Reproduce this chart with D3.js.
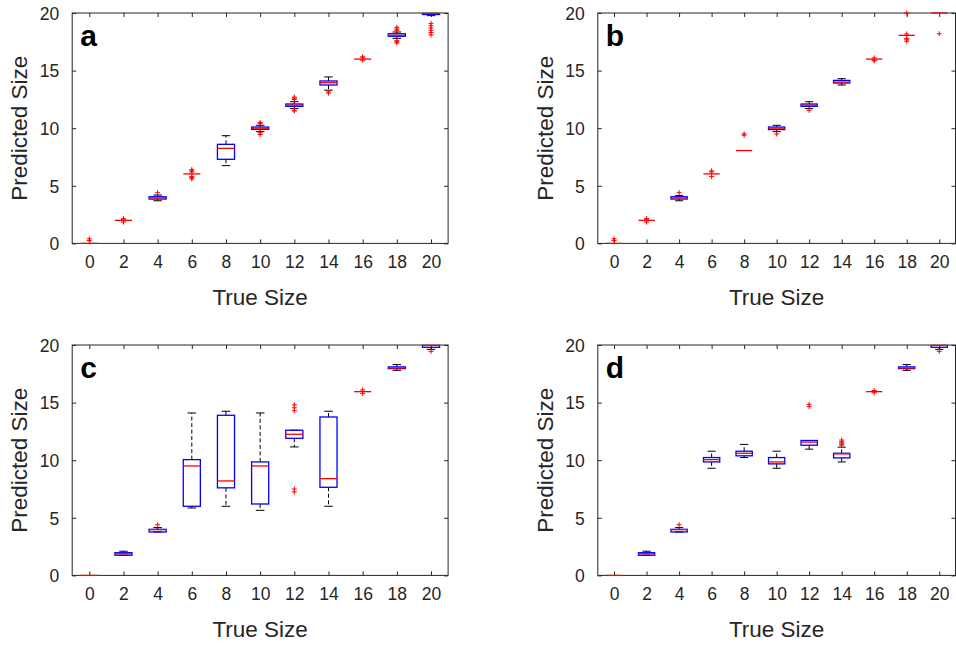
<!DOCTYPE html>
<html><head><meta charset="utf-8">
<script src="https://cdn.jsdelivr.net/npm/d3@7"></script>
<style>body{margin:0;background:#fff}svg{display:block}</style>
</head><body>
<svg id="chart" width="956" height="646"></svg>
<script>
// ---- data ----
const categories = [0, 2, 4, 6, 8, 10, 12, 14, 16, 18, 20];
const yTicks = [0, 5, 10, 15, 20];
const panelLabels = ["a", "b", "c", "d"];
// each box: [lowWhisker, q1, median, q3, highWhisker]
const boxesA = [[0,0,0,0,0],[2,2,2,2,2],[3.7,3.85,3.95,4.05,4.2],[6.03,6.03,6.03,6.03,6.03],[6.75,7.3,8.25,8.6,9.35],[9.7,9.9,10,10.1,10.25],[11.7,11.9,12,12.1,12.3],[13.3,13.75,13.95,14.1,14.45],[16,16,16,16,16],[17.8,17.98,18.06,18.2,18.35],[19.77,19.87,19.97,20.05,20.05]];
const outliersA = [[0.25,0.4],[1.85,2.1,2.15],[4.4],[5.6,5.7,5.8,6.2,6.3,6.4],[],[9.45,9.6,10.4,10.5],[11.5,11.55,12.5,12.6,12.7],[13.05,13.15],[15.9,16.1,16.2],[17.4,17.5,17.6,18.5,18.6,18.75],[18.1,18.3,18.5,18.7,18.9,19.1]];
const boxesB = [[0,0,0,0,0],[2,2,2,2,2],[3.7,3.85,3.95,4.05,4.15],[6.03,6.03,6.03,6.03,6.03],[8.06,8.06,8.06,8.06,8.06],[9.7,9.88,10,10.1,10.25],[11.7,11.9,12,12.1,12.3],[13.75,13.92,14,14.15,14.3],[16,16,16,16,16],[18.06,18.06,18.06,18.06,18.06],[20,20,20,20,20]];
const outliersB = [[0.25,0.4],[1.85,2.1,2.15],[4.4],[5.8,6.2,6.3],[9.4,9.5],[9.5],[11.55],[],[15.85,15.9,16.1],[17.55,17.67,17.78,18.18,20],[18.2]];
const boxesC = [[0,0,0,0,0],[1.75,1.75,1.88,1.97,2.1],[3.77,3.77,3.97,4,4.15],[5.85,6,9.5,10.05,14.1],[6,7.6,8.2,13.9,14.25],[5.65,6.2,9.5,9.85,14.1],[11.15,11.9,12.25,12.6,12.6],[6,7.65,8.4,13.75,14.25],[15.95,15.95,15.95,15.95,15.95],[17.8,17.95,18,18.1,18.3],[19.62,19.8,19.97,20,20]];
const outliersC = [[],[],[4.4],[],[],[],[7.25,7.5,14.3,14.55,14.8],[],[15.8,16.1],[],[19.45]];
const boxesD = [[0,0,0,0,0],[1.75,1.75,1.88,1.97,2.1],[3.77,3.77,3.97,4,4.15],[9.3,9.85,10.05,10.23,10.78],[10.23,10.38,10.6,10.78,11.37],[9.3,9.68,9.85,10.23,10.78],[10.96,11.3,11.57,11.71,11.71],[9.85,10.2,10.55,10.6,11.13],[15.95,15.95,15.95,15.95,15.95],[17.8,17.95,18,18.1,18.3],[19.62,19.8,19.97,20,20]];
const outliersD = [[],[],[4.4],[],[],[],[14.65,14.85],[11.3,11.4,11.5,11.6,11.75],[15.85,16.05],[],[19.45]];

// ---- layout ----
const panels = [
  {label: panelLabels[0], boxes: boxesA, outliers: outliersA, left: 72.2, right: 448.1, top: 13, bottom: 243.4},
  {label: panelLabels[1], boxes: boxesB, outliers: outliersB, left: 597.8, right: 955.5, top: 13, bottom: 243.4},
  {label: panelLabels[2], boxes: boxesC, outliers: outliersC, left: 72.2, right: 448.1, top: 345, bottom: 575.4},
  {label: panelLabels[3], boxes: boxesD, outliers: outliersD, left: 597.8, right: 955.5, top: 345, bottom: 575.4}
];
const axisColor = "#262626";
const font = "'Liberation Sans', Arial, Helvetica, sans-serif";
const svg = d3.select("#chart");

panels.forEach((p, pi) => {
  const x = d3.scaleLinear().domain([-1, 21]).range([p.left, p.right]);
  const y = d3.scaleLinear().domain([0, 20]).range([p.bottom, p.top]);
  const g = svg.append("g");
  const step = x(2) - x(0);
  const bw = step * 0.5;
  const cw = bw * 0.5;
  const tl = 4;

  const clipId = "clip" + pi;
  svg.append("clipPath").attr("id", clipId).append("rect")
    .attr("x", p.left).attr("y", p.top).attr("width", p.right - p.left).attr("height", p.bottom - p.top);

  // axes via d3 axis generators (ticks inward)
  const xb = d3.axisBottom(x).tickValues(categories).tickSizeInner(-tl).tickSizeOuter(0).tickPadding(12);
  const xt = d3.axisTop(x).tickValues(categories).tickSizeInner(-tl).tickSizeOuter(0).tickFormat("");
  const yl = d3.axisLeft(y).tickValues(yTicks).tickSizeInner(-tl).tickSizeOuter(0).tickPadding(13);
  const yr = d3.axisRight(y).tickValues(yTicks).tickSizeInner(-tl).tickSizeOuter(0).tickFormat("");
  const gb = g.append("g").attr("transform", `translate(0,${p.bottom})`).call(xb);
  const gt = g.append("g").attr("transform", `translate(0,${p.top})`).call(xt);
  const gl = g.append("g").attr("transform", `translate(${p.left},0)`).call(yl);
  const gr = g.append("g").attr("transform", `translate(${p.right},0)`).call(yr);
  [gb, gt, gl, gr].forEach(a => {
    a.select(".domain").remove();
    a.selectAll("line").attr("stroke", axisColor).attr("stroke-width", 1);
    a.selectAll("text").attr("fill", axisColor).style("font-family", font).style("font-size", "17.5px");
  });
  gb.selectAll("text").attr("dy", "0.71em");
  gl.selectAll("text").attr("dy", "0.36em");

  // frame
  g.append("rect").attr("x", p.left).attr("y", p.top)
    .attr("width", p.right - p.left).attr("height", p.bottom - p.top)
    .attr("fill", "none").attr("stroke", axisColor).attr("stroke-width", 1);

  // axis titles
  g.append("text").attr("x", (p.left + p.right) / 2).attr("y", p.bottom + 62)
    .attr("text-anchor", "middle").attr("fill", axisColor)
    .style("font-family", font).style("font-size", "22.5px").text("True Size");
  g.append("text").attr("transform", `translate(${p.left - 45},${(p.top + p.bottom) / 2}) rotate(-90)`)
    .attr("text-anchor", "middle").attr("fill", axisColor)
    .style("font-family", font).style("font-size", "22.5px").text("Predicted Size");

  // panel letter
  g.append("text").attr("x", p.left + 8).attr("y", p.top + 33)
    .attr("fill", "#000").style("font-family", font).style("font-weight", "bold")
    .style("font-size", "30px").text(p.label);

  // boxes
  const plot = g.append("g").attr("clip-path", `url(#${clipId})`);
  const top = g.append("g");
  p.boxes.forEach((b, i) => {
    const cx = x(categories[i]);
    const [lo, q1, med, q3, hi] = b;
    if (hi > q3) {
      plot.append("line").attr("x1", cx).attr("x2", cx).attr("y1", y(q3)).attr("y2", y(hi))
        .attr("stroke", "#000").attr("stroke-width", 1).attr("stroke-dasharray", "4,2.5");
    }
    if (lo < q1) {
      plot.append("line").attr("x1", cx).attr("x2", cx).attr("y1", y(q1)).attr("y2", y(lo))
        .attr("stroke", "#000").attr("stroke-width", 1).attr("stroke-dasharray", "4,2.5");
    }
    if (hi !== lo) {
      [lo, hi].forEach(v => plot.append("line").attr("x1", cx - cw / 2).attr("x2", cx + cw / 2)
        .attr("y1", y(v)).attr("y2", y(v)).attr("stroke", "#000").attr("stroke-width", 1));
    }
    plot.append("rect").attr("x", cx - bw / 2).attr("y", y(q3))
      .attr("width", bw).attr("height", Math.max(0, y(q1) - y(q3)))
      .attr("fill", "none").attr("stroke", "#0000ff").attr("stroke-width", 1.3);
    top.append("line").attr("x1", cx - bw / 2).attr("x2", cx + bw / 2)
      .attr("y1", y(med)).attr("y2", y(med)).attr("stroke", "#ff0000").attr("stroke-width", 1.3);
    p.outliers[i].forEach(v => {
      const oy = y(v), s = 2.5;
      top.append("path").attr("d", `M${cx - s},${oy}H${cx + s}M${cx},${oy - s}V${oy + s}`)
        .attr("stroke", "#ff0000").attr("stroke-width", 1).attr("fill", "none");
    });
  });
});
</script>
</body></html>
